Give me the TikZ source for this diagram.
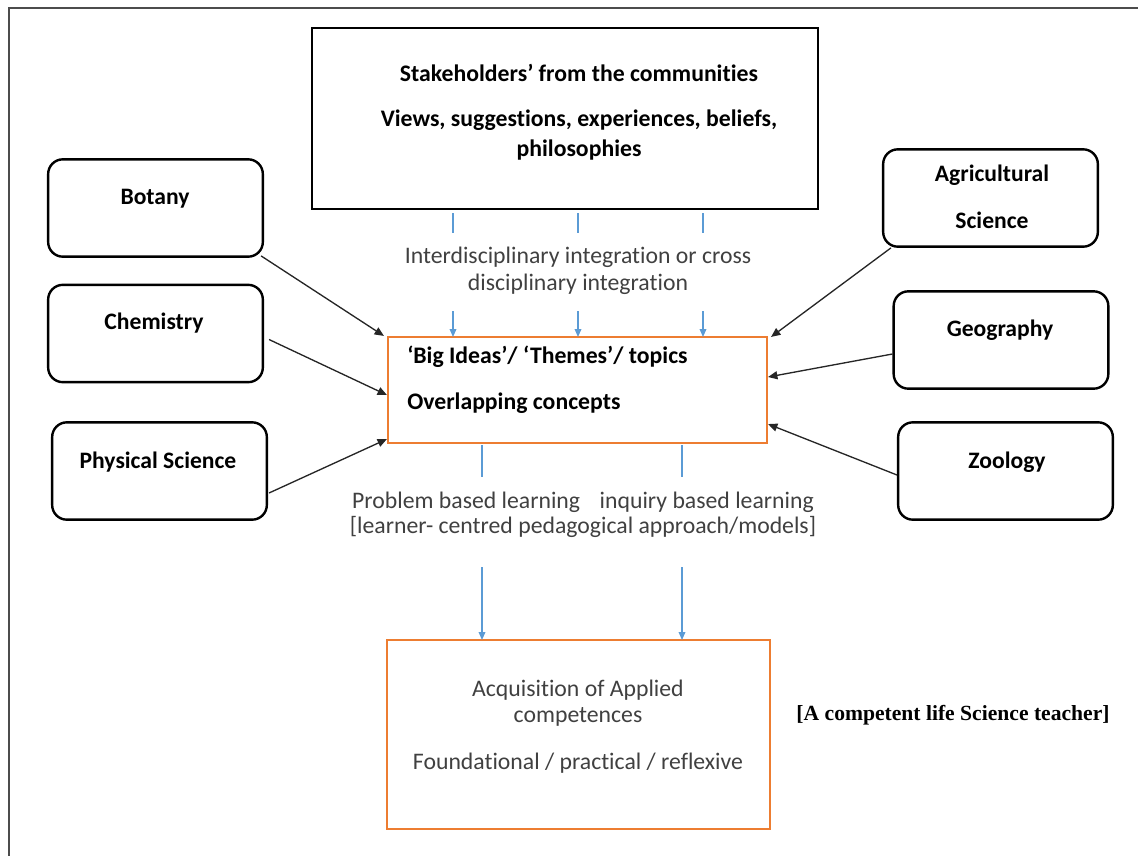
\documentclass[tikz,border=0pt]{standalone}
\usepackage{fontspec}
\setmainfont[Ligatures=NoCommon]{Carlito}
\newfontfamily\timesf{Liberation Serif}
\usetikzlibrary{arrows.meta,calc}
\definecolor{obox}{RGB}{237,125,49}
\definecolor{bline}{RGB}{91,155,213}
\definecolor{txtgray}{RGB}{64,64,64}
\begin{document}
\begin{tikzpicture}[x=0.75pt,y=-0.75pt,
  subj/.style={draw, line width=1.8pt, rounded corners=11pt, minimum width=161pt, minimum height=73pt, inner sep=0pt},
  subjtxt/.style={font=\fontsize{17.7}{20}\selectfont\bfseries, inner sep=0pt},
  boldtxt/.style={font=\fontsize{17.8}{20}\selectfont\bfseries, inner sep=0pt},
  regtxt/.style={font=\fontsize{17.8}{20.25}\selectfont, text=txtgray, inner sep=0pt, align=center},
  obx/.style={draw=obox, line width=1.6pt, inner sep=0pt},
  blk/.style={-{Triangle[length=7pt,width=6pt]}, line width=1pt, black!85},
  blu/.style={line width=1pt, bline},
  bluarr/.style={blu, -{Triangle[length=6pt,width=5pt]}}
]
\useasboundingbox (0,0) rectangle (1138,856);
% outer frame
\draw[line width=1.4pt, black!70] (9,860) -- (9,8) -- (1142,8);

% stakeholder box
\node[draw, line width=2pt, minimum width=379.5pt, minimum height=135.75pt, inner sep=0pt] (stake) at (565,118.5) {};
\node[boldtxt] (st1) at (579,73) {Stakeholders’ from the communities};
\node[boldtxt] (st2) at (579,120) {Views, suggestions, experiences, beliefs,};
\node[boldtxt] (st3) at (579,150) {philosophies};

% central box
\node[obx, minimum width=284.25pt, minimum height=79.5pt] (big) at (577.5,390) {};
\node[boldtxt, anchor=west] (big1) at (407,357) {‘Big Ideas’/ ‘Themes’/ topics};
\node[boldtxt, anchor=west] (big2) at (407,403) {Overlapping concepts};

% competence box
\node[obx, minimum width=287.25pt, minimum height=141.75pt] (comp) at (578.5,734.5) {};
\node[regtxt] (c1) at (578,690) {Acquisition of Applied};
\node[regtxt] (c2) at (578,717) {competences};
\node[regtxt] (c3) at (578,763) {Foundational / practical / reflexive};

\node[font=\fontsize{16.2}{19}\selectfont\timesf\bfseries, inner sep=0pt] (teach) at (953,715) {[A competent life Science teacher]};

% subject boxes
\node[subj] (bot) at (155.5,208) {};
\node[subjtxt] (bott) at (155,199) {Botany};
\node[subj] (chem) at (155.5,333.5) {};
\node[subjtxt] (chemt) at (154,323) {Chemistry};
\node[subj] (phys) at (159.5,471) {};
\node[subjtxt] (physt) at (158,462) {Physical Science};
\node[subj] (agri) at (990.5,198) {};
\node[subjtxt] (agrit1) at (992,175) {Agricultural};
\node[subjtxt] (agrit2) at (992,220) {Science};
\node[subj] (geo) at (1001,340) {};
\node[subjtxt] (geot) at (1000,330) {Geography};
\node[subj] (zoo) at (1005.5,471) {};
\node[subjtxt] (zoot) at (1007,462) {Zoology};

% labels
\node[regtxt] (inter) at (578,271) {Interdisciplinary integration or cross\\disciplinary integration};
\node[regtxt] (peda) at (583,515) {Problem based learning\hspace{0.6em} inquiry based learning\\[-1.5pt][learner- centred pedagogical approach/models]};

% black arrows
\draw[blk] ($(bot.south east)+(-3,-2)$) -- ($(big.north west)+(-3,0)$);
\draw[blk] ($(chem.east)+(5,6)$) -- ($(big.west)+(0,5)$);
\draw[blk] ($(phys.east)+(1,22)$) -- ($(big.south west)+(0,-5)$);
\draw[blk] ($(agri.south west)+(9,0)$) -- ($(big.north east)+(3,1)$);
\draw[blk] ($(geo.west)+(0,14)$) -- ($(big.east)+(0,-13)$);
\draw[blk] ($(zoo.west)+(0,4)$) -- ($(big.south east)+(0,-20)$);

% blue connectors stakeholders -> big
\foreach \xx/\nm in {453/a,578/b,703/c}{
  \coordinate (u\nm1) at (\xx,213);
  \coordinate (u\nm2) at (\xx,233);
  \coordinate (u\nm3) at (\xx,311);
  \coordinate (u\nm4) at (\xx,337);
  \draw[blu] (u\nm1) -- (u\nm2);
  \draw[bluarr] (u\nm3) -- (u\nm4);
}
% blue connectors big -> comp
\foreach \xx/\nm in {482/a,682/b}{
  \coordinate (m\nm1) at (\xx,445);
  \coordinate (m\nm2) at (\xx,477);
  \coordinate (m\nm3) at (\xx,567);
  \coordinate (m\nm4) at (\xx,640);
  \draw[blu] (m\nm1) -- (m\nm2);
  \draw[bluarr] (m\nm3) -- (m\nm4);
}
\end{tikzpicture}
\end{document}
